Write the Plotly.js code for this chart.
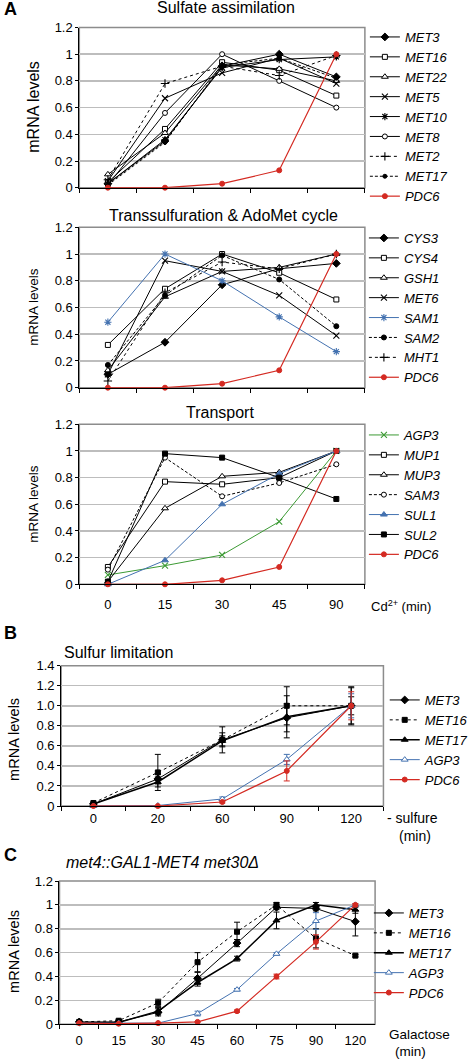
<!DOCTYPE html>
<html>
<head>
<meta charset="utf-8">
<script src="https://cdn.plot.ly/plotly-3.0.1.min.js"></script>
<style>html,body{margin:0;padding:0;background:#fff;}#chart{width:473px;height:1060px;}</style>
</head>
<body>
<div id="chart"></div>
<script>
// ---------- DATA ----------
// Panel A (Cd2+ time course)
const catsA = ['0', '15', '30', '45', '90'];
// Sulfate assimilation
const A1_MET3  = [0.03, 0.35, 0.91, 1.00, 0.83];
const A1_MET16 = [0.04, 0.44, 0.94, 0.88, 0.69];
const A1_MET22 = [0.10, 0.41, 0.92, 0.89, 0.80];
const A1_MET5  = [0.05, 0.67, 0.86, 0.97, 0.78];
const A1_MET10 = [0.03, 0.36, 0.90, 0.96, 0.98];
const A1_MET8  = [0.02, 0.56, 1.00, 0.80, 0.60];
const A1_MET2  = [0.06, 0.78, 0.91, 0.84, 0.99];
const A1_MET17 = [0.02, 0.34, 0.92, 0.97, 0.82];
const A1_PDC6  = [0.00, 0.00, 0.03, 0.13, 1.00];
// Transsulfuration & AdoMet cycle
const A2_CYS3 = [0.10, 0.34, 0.77, 0.89, 0.93];
const A2_CYS4 = [0.32, 0.74, 1.00, 0.86, 0.66];
const A2_GSH1 = [0.13, 0.68, 0.87, 0.90, 1.00];
const A2_MET6 = [0.10, 0.95, 0.87, 0.69, 0.39];
const A2_SAM1 = [0.49, 1.00, 0.80, 0.53, 0.27];
const A2_SAM2 = [0.17, 0.69, 0.99, 0.81, 0.46];
const A2_MHT1 = [0.05, 0.71, 0.94, 0.89, 1.00];
const A2_PDC6 = [0.00, 0.00, 0.03, 0.13, 1.00];
// Transport
const A3_AGP3 = [0.07, 0.14, 0.22, 0.47, 1.00];
const A3_MUP1 = [0.13, 0.77, 0.75, 0.80, 1.00];
const A3_MUP3 = [0.02, 0.57, 0.81, 0.84, 1.00];
const A3_SAM3 = [0.11, 0.95, 0.66, 0.76, 0.90];
const A3_SUL1 = [0.00, 0.18, 0.60, 0.83, 1.00];
const A3_SUL2 = [0.02, 0.98, 0.95, 0.80, 0.64];
const A3_PDC6 = [0.00, 0.00, 0.03, 0.13, 1.00];

// Panel B (sulfur limitation)
const catsB = ['0', '20', '60', '90', '120'];
const B_MET3  = [0.02, 0.27, 0.66, 0.88, 1.00];
const B_MET16 = [0.03, 0.335, 0.66, 1.00, 1.00];
const B_MET17 = [0.02, 0.24, 0.65, 0.89, 1.00];
const B_AGP3  = [0.00, 0.005, 0.07, 0.465, 1.00];
const B_PDC6  = [0.00, 0.00, 0.04, 0.35, 1.00];
const B_MET3_err  = [0.01, 0.05, 0.07, 0.14, 0.18];
const B_MET16_err = [0.01, 0.18, 0.13, 0.19, 0.09];
const B_MET17_err = [0.01, 0.05, 0.05, 0.21, 0.19];
const B_AGP3_err  = [0.00, 0.00, 0.02, 0.05, 0.12];
const B_PDC6_err  = [0.00, 0.00, 0.01, 0.10, 0.14];
const ticksB_vals = [0, 0.2, 0.4, 0.6, 0.8, 1.0, 1.2, 1.4];
const ticksB_text = ['0', '0.2', '0.4', '0.6', '0.8', '1.0', '1.2', '1.4'];

// Panel C (met4::GAL1-MET4 met30Δ, galactose)
const catsC = ['0', '15', '30', '45', '60', '75', '90', '120'];
const C_MET3  = [0.02, 0.02, 0.10, 0.385, 0.68, 0.98, 0.97, 0.86];
const C_MET16 = [0.02, 0.03, 0.18, 0.52, 0.775, 1.00, 0.72, 0.575];
const C_MET17 = [0.01, 0.015, 0.11, 0.35, 0.55, 0.87, 1.00, 0.96];
const C_AGP3  = [0.01, 0.01, 0.01, 0.09, 0.29, 0.59, 0.865, 1.00];
const C_PDC6  = [0.01, 0.005, 0.01, 0.02, 0.11, 0.40, 0.69, 1.00];
const C_MET3_err  = [0.01, 0.01, 0.03, 0.05, 0.03, 0.02, 0.02, 0.12];
const C_MET16_err = [0.01, 0.01, 0.03, 0.08, 0.08, 0.02, 0.08, 0.01];
const C_MET17_err = [0.01, 0.01, 0.03, 0.03, 0.02, 0.07, 0.02, 0.03];
const C_AGP3_err  = [0.00, 0.00, 0.00, 0.02, 0.01, 0.01, 0.07, 0.01];
const C_PDC6_err  = [0.00, 0.00, 0.00, 0.00, 0.01, 0.02, 0.06, 0.01];

// ---------- STYLE ----------
const FONT = 'Liberation Sans, Arial, Helvetica, sans-serif';
const BLACK = '#000000', RED = '#d42a22', BLUE = '#4472b0', GREEN = '#3c9a34';
const W = 473, H = 1060;
const px = v => v / W;
const py = v => 1 - v / H;

// o.hollow: white-filled marker with coloured outline
function tr(x, y, name, ax, leg, o) {
  const color = o.color || BLACK;
  const strokeOnly = /thin|asterisk/.test(o.symbol);
  const t = {
    type: 'scatter', mode: 'lines+markers', x: x, y: y, name: name,
    xaxis: 'x' + (ax === 1 ? '' : ax), yaxis: 'y' + (ax === 1 ? '' : ax),
    legend: leg, cliponaxis: false,
    line: {color: color, width: o.width || 1, dash: o.dash || 'solid'},
    marker: {symbol: o.symbol, size: o.size || 5,
             color: o.hollow ? '#ffffff' : color,
             line: {color: color, width: strokeOnly ? 1.1 : 1}}
  };
  if (o.err) t.error_y = {type: 'data', array: o.err, visible: true, color: o.ecolor || color, thickness: 1, width: 3};
  return t;
}

const traces = [
  // A1
  tr(catsA, A1_MET3,  'MET3',  1, 'legend', {symbol: 'diamond', size: 6}),
  tr(catsA, A1_MET16, 'MET16', 1, 'legend', {symbol: 'square', hollow: true}),
  tr(catsA, A1_MET22, 'MET22', 1, 'legend', {symbol: 'triangle-up', hollow: true, size: 6}),
  tr(catsA, A1_MET5,  'MET5',  1, 'legend', {symbol: 'x-thin-open', size: 6}),
  tr(catsA, A1_MET10, 'MET10', 1, 'legend', {symbol: 'asterisk-open', size: 6}),
  tr(catsA, A1_MET8,  'MET8',  1, 'legend', {symbol: 'circle', hollow: true}),
  tr(catsA, A1_MET2,  'MET2',  1, 'legend', {symbol: 'cross-thin-open', size: 6, dash: 'dot'}),
  tr(catsA, A1_MET17, 'MET17', 1, 'legend', {symbol: 'circle', size: 4, dash: '3px,2px'}),
  tr(catsA, A1_PDC6,  'PDC6',  1, 'legend', {symbol: 'circle', size: 5, color: RED, width: 1.2}),
  // A2
  tr(catsA, A2_CYS3, 'CYS3', 2, 'legend2', {symbol: 'diamond', size: 6}),
  tr(catsA, A2_CYS4, 'CYS4', 2, 'legend2', {symbol: 'square', hollow: true}),
  tr(catsA, A2_GSH1, 'GSH1', 2, 'legend2', {symbol: 'triangle-up', hollow: true, size: 6}),
  tr(catsA, A2_MET6, 'MET6', 2, 'legend2', {symbol: 'x-thin-open', size: 6}),
  tr(catsA, A2_SAM1, 'SAM1', 2, 'legend2', {symbol: 'asterisk-open', size: 6, color: BLUE}),
  tr(catsA, A2_SAM2, 'SAM2', 2, 'legend2', {symbol: 'circle', size: 5, dash: '3px,2px'}),
  tr(catsA, A2_MHT1, 'MHT1', 2, 'legend2', {symbol: 'cross-thin-open', size: 6, dash: 'dot'}),
  tr(catsA, A2_PDC6, 'PDC6', 2, 'legend2', {symbol: 'circle', size: 5, color: RED, width: 1.2}),
  // A3
  tr(catsA, A3_AGP3, 'AGP3', 3, 'legend3', {symbol: 'x-thin-open', size: 6, color: GREEN}),
  tr(catsA, A3_MUP1, 'MUP1', 3, 'legend3', {symbol: 'square', hollow: true}),
  tr(catsA, A3_MUP3, 'MUP3', 3, 'legend3', {symbol: 'triangle-up', hollow: true, size: 6}),
  tr(catsA, A3_SAM3, 'SAM3', 3, 'legend3', {symbol: 'circle', hollow: true, size: 5, dash: '3px,2px'}),
  tr(catsA, A3_SUL1, 'SUL1', 3, 'legend3', {symbol: 'triangle-up', size: 6, color: BLUE}),
  tr(catsA, A3_SUL2, 'SUL2', 3, 'legend3', {symbol: 'square', size: 5}),
  tr(catsA, A3_PDC6, 'PDC6', 3, 'legend3', {symbol: 'circle', size: 5, color: RED, width: 1.2}),
  // B
  tr(catsB, B_MET3,  'MET3',  4, 'legend4', {symbol: 'diamond', size: 6, err: B_MET3_err}),
  tr(catsB, B_MET16, 'MET16', 4, 'legend4', {symbol: 'square', size: 5, dash: 'dot', err: B_MET16_err}),
  tr(catsB, B_MET17, 'MET17', 4, 'legend4', {symbol: 'triangle-up', size: 6, width: 1.5, err: B_MET17_err}),
  tr(catsB, B_AGP3,  'AGP3',  4, 'legend4', {symbol: 'triangle-up', hollow: true, size: 6, color: BLUE, err: B_AGP3_err}),
  tr(catsB, B_PDC6,  'PDC6',  4, 'legend4', {symbol: 'circle', size: 5, color: RED, width: 1.2, err: B_PDC6_err}),
  // C
  tr(catsC, C_MET3,  'MET3',  5, 'legend5', {symbol: 'diamond', size: 6, err: C_MET3_err}),
  tr(catsC, C_MET16, 'MET16', 5, 'legend5', {symbol: 'square', size: 5, dash: 'dot', err: C_MET16_err}),
  tr(catsC, C_MET17, 'MET17', 5, 'legend5', {symbol: 'triangle-up', size: 6, width: 1.5, err: C_MET17_err}),
  tr(catsC, C_AGP3,  'AGP3',  5, 'legend5', {symbol: 'triangle-up', hollow: true, size: 6, color: BLUE, err: C_AGP3_err}),
  tr(catsC, C_PDC6,  'PDC6',  5, 'legend5', {symbol: 'circle', size: 5, color: RED, width: 1.2, err: C_PDC6_err})
];

// ---------- LAYOUT ----------
function xax(l, r, n, showLabels, standoff) {
  return {domain: [px(l), px(r)], anchor: 'y' + (n === 1 ? '' : n), type: 'category',
    range: [-0.5, n === 5 ? 7.5 : 4.5], showgrid: false, zeroline: false,
    showline: true, linecolor: '#000', linewidth: 1,
    ticks: 'outside', tickson: 'boundaries', ticklen: 4, tickcolor: '#000', tickwidth: 1,
    showticklabels: showLabels, ticklabelstandoff: standoff || 0,
    tickfont: {family: FONT, size: 13, color: '#000'}, fixedrange: true};
}
function yax(top, bottom, n, rng, extra) {
  return Object.assign({domain: [py(bottom), py(top)], anchor: 'x' + (n === 1 ? '' : n),
    range: rng, dtick: 0.2, tick0: 0, showgrid: true, gridcolor: '#bdbdbd', gridwidth: 1.5,
    zeroline: false, showline: true, linecolor: '#000', linewidth: 1,
    ticks: 'outside', ticklen: 3, tickcolor: '#000',
    tickfont: {family: FONT, size: 13, color: '#000'}, fixedrange: true}, extra || {});
}
function leg(xl, ytop) {
  return {x: px(xl), y: py(ytop), xanchor: 'left', yanchor: 'top', bgcolor: 'rgba(0,0,0,0)',
    font: {family: FONT, size: 13, style: 'italic', color: '#000'}, itemwidth: 30, tracegroupgap: 0,
    itemclick: false, itemdoubleclick: false};
}
function frame(n) {
  const s = n === 1 ? '' : n;
  return {type: 'rect', xref: 'x' + s + ' domain', yref: 'y' + s + ' domain', x0: 0, x1: 1, y0: 0, y1: 1,
    line: {color: '#8c8c8c', width: 1.5}, layer: 'below'};
}
function ann(text, x, y, o) {
  return Object.assign({text: text, xref: 'paper', yref: 'paper', x: px(x), y: py(y),
    xanchor: 'center', yanchor: 'middle', showarrow: false,
    font: {family: FONT, size: 16, color: '#000'}}, o || {});
}

const layout = {
  width: W, height: H, margin: {l: 0, r: 0, t: 0, b: 0},
  paper_bgcolor: '#fff', plot_bgcolor: '#fff', showlegend: true,
  font: {family: FONT, color: '#000'},
  xaxis:  xax(80, 368, 1, false),
  yaxis:  yax(27.5, 187.7, 1, [0, 1.2]),
  xaxis2: xax(80, 368, 2, false),
  yaxis2: yax(227.3, 387.7, 2, [0, 1.2]),
  xaxis3: xax(80, 368, 3, true, 8),
  yaxis3: yax(424.3, 584.3, 3, [0, 1.2]),
  xaxis4: xax(61.7, 386.7, 4, true, 0),
  yaxis4: yax(665.7, 806, 4, [0, 1.4], {tickvals: ticksB_vals, ticktext: ticksB_text}),
  xaxis5: xax(60, 378.3, 5, true, 4),
  yaxis5: yax(881, 1024.3, 5, [0, 1.2]),
  legend:  leg(368, 22),
  legend2: leg(367, 223),
  legend3: leg(367, 420),
  legend4: leg(388, 685),
  legend5: leg(372, 898),
  shapes: [frame(1), frame(2), frame(3), frame(4), frame(5)],
  annotations: [
    ann('<b>A</b>', 2, 9, {xanchor: 'left', font: {family: FONT, size: 18, color: '#000'}}),
    ann('Sulfate assimilation', 228, 8),
    ann('mRNA levels', 33, 107, {textangle: -90, font: {family: FONT, size: 16, color: '#000'}}),
    ann('Transsulfuration &amp; AdoMet cycle', 225, 215),
    ann('mRNA levels', 33, 307, {textangle: -90, font: {family: FONT, size: 13.5, color: '#000'}}),
    ann('Transport', 222, 412),
    ann('mRNA levels', 33, 504, {textangle: -90, font: {family: FONT, size: 13.5, color: '#000'}}),
    ann('Cd<sup>2+</sup> (min)', 372, 606, {xanchor: 'left', font: {family: FONT, size: 13, color: '#000'}}),
    ann('<b>B</b>', 2, 633, {xanchor: 'left', font: {family: FONT, size: 18, color: '#000'}}),
    ann('Sulfur limitation', 63, 652, {xanchor: 'left'}),
    ann('mRNA levels', 14, 739, {textangle: -90, font: {family: FONT, size: 14.5, color: '#000'}}),
    ann('- sulfure', 388, 818, {xanchor: 'left', font: {family: FONT, size: 14, color: '#000'}}),
    ann('(min)', 400, 836, {xanchor: 'left', font: {family: FONT, size: 14, color: '#000'}}),
    ann('<b>C</b>', 2, 855, {xanchor: 'left', font: {family: FONT, size: 18, color: '#000'}}),
    ann('<i>met4::GAL1-MET4 met30Δ</i>', 65, 862, {xanchor: 'left'}),
    ann('mRNA levels', 14, 951, {textangle: -90, font: {family: FONT, size: 14.5, color: '#000'}}),
    ann('Galactose', 390, 1034, {xanchor: 'left', font: {family: FONT, size: 13.5, color: '#000'}}),
    ann('(min)', 396, 1051, {xanchor: 'left', font: {family: FONT, size: 13.5, color: '#000'}})
  ]
};

Plotly.newPlot('chart', traces, layout, {staticPlot: true, displayModeBar: false});
</script>
</body>
</html>
